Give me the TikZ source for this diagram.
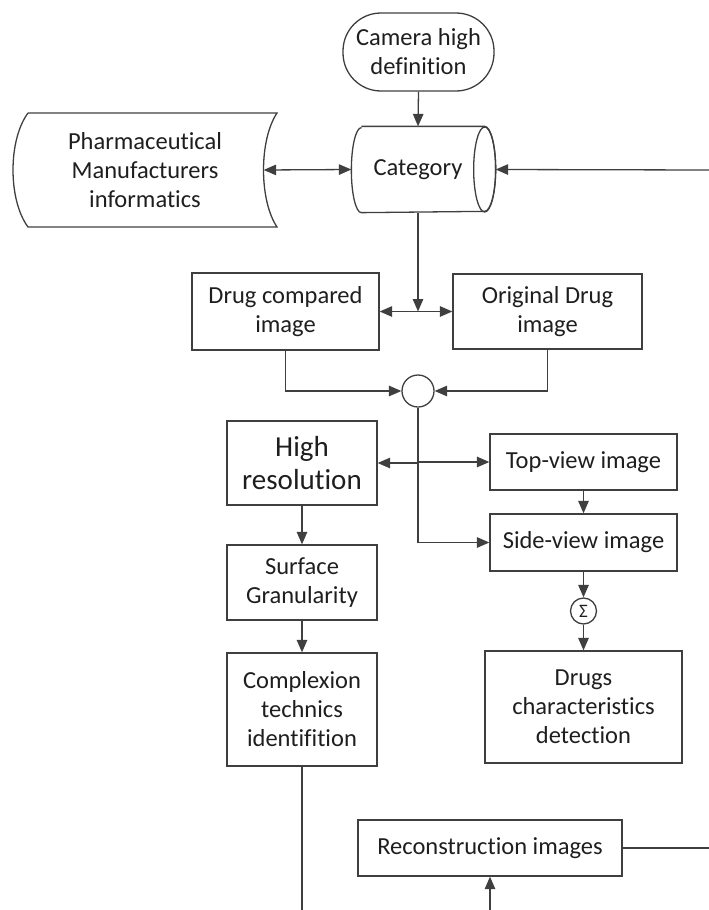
\documentclass[tikz,border=0pt]{standalone}
\usepackage{fontspec}
\setmainfont{Carlito}[Ligatures=NoCommon]
\usetikzlibrary{arrows.meta}
\definecolor{linegray}{HTML}{3F3F3F}
\definecolor{textdark}{HTML}{1E1E1E}

\begin{document}
\begin{tikzpicture}[x=1pt,y=-1pt,line width=1.3pt,color=linegray,
    every node/.style={font=\fontsize{24.5}{29}\selectfont,text=textdark,align=center,inner sep=0pt},
    box/.style={draw,rectangle},
    arr/.style={-{Triangle[length=12.5pt,width=10.5pt]}},
    darr/.style={{Triangle[length=12.5pt,width=10.5pt]}-{Triangle[length=12.5pt,width=10.5pt]}}]
    \useasboundingbox (0,0) rectangle (709,910);

    % top part
    \node[box,rounded corners=38pt,minimum width=151pt,minimum height=78pt] (cam) at (418.5,52) {Camera high\\definition};
    \node[minimum width=132pt,minimum height=85pt] (cat) at (418,169.5) {Category};
    \draw ([xshift=10pt]cat.north west) -- (cat.north east)
        arc[start angle=90,end angle=-90,x radius=11pt,y radius=42.5pt]
        -- ([xshift=10pt]cat.south west)
        arc[start angle=-90,end angle=-270,x radius=10pt,y radius=42.5pt];
    \draw (cat.east) ellipse[x radius=11pt,y radius=42.5pt];
    \node[minimum width=236pt,minimum height=114pt] (pharma) at (145,170) {Pharmaceutical\\Manufacturers\\informatics};
    \draw (28,113) -- (277,113) .. controls (259,140) and (259,200) .. (277,227)
        -- (28,227) .. controls (8,200) and (8,140) .. (28,113);
    \coordinate (inR) at (709,170);

    \draw[arr] (cam.south) -- (cat.north);
    \draw[darr] (pharma.east) -- (cat.west);
    \draw[arr] (inR) -- ([xshift=11pt]cat.east);

    % comparison
    \node[box,minimum width=187pt,minimum height=77pt] (drug) at (285.5,311.5) {Drug compared\\image};
    \node[box,minimum width=189pt,minimum height=75pt] (orig) at (547.5,311.5) {Original Drug\\image};
    \node[circle,draw,minimum size=32pt] (join) at (418,391) {};
    \draw[arr] (cat.south) -- (cat.south |- drug.east);
    \draw[darr] (drug.east) -- (orig.west);
    \draw[arr] (drug.south) |- (join.west);
    \draw[arr] (orig.south) |- (join.east);

    % left column
    \node[box,minimum width=150pt,minimum height=84pt,font=\fontsize{29}{33}\selectfont] (hires) at (302,463) {High\\resolution};
    \node[box,minimum width=150pt,minimum height=75pt] (surf) at (302,582.5) {Surface\\Granularity};
    \node[box,minimum width=150pt,minimum height=113pt] (comp) at (302,709.5) {Complexion\\technics\\identifition};
    \coordinate (outB) at (302,910);
    \draw[arr] (hires) -- (surf);
    \draw[arr] (surf) -- (comp);
    \draw (comp.south) -- (outB);

    % right column
    \node[box,minimum width=187pt,minimum height=56pt] (top) at (583.5,462) {Top-view image};
    \node[box,minimum width=187pt,minimum height=57pt] (side) at (583.5,542.5) {Side-view image};
    \node[circle,draw,minimum size=26pt,font=\fontsize{19}{19}\selectfont] (sum) at (583.5,611) {Σ};
    \node[box,minimum width=197pt,minimum height=112pt] (chars) at (583.5,707) {Drugs\\characteristics\\detection};
    \draw[arr] (join.south) |- (side.west);
    \draw[arr] (join.south |- top.west) -- (top.west);
    \draw[arr] (join.south |- hires.east) -- (hires.east);
    \draw[arr] (top) -- (side);
    \draw[arr] (side) -- (sum);
    \draw[arr] (sum) -- (chars);

    % bottom
    \node[box,minimum width=264pt,minimum height=56pt] (recon) at (490,848) {Reconstruction images};
    \coordinate (outR) at (709,848);
    \coordinate (inB) at (490,910);
    \draw (recon.east) -- (outR);
    \draw[arr] (inB) -- (recon.south);
\end{tikzpicture}
\end{document}
